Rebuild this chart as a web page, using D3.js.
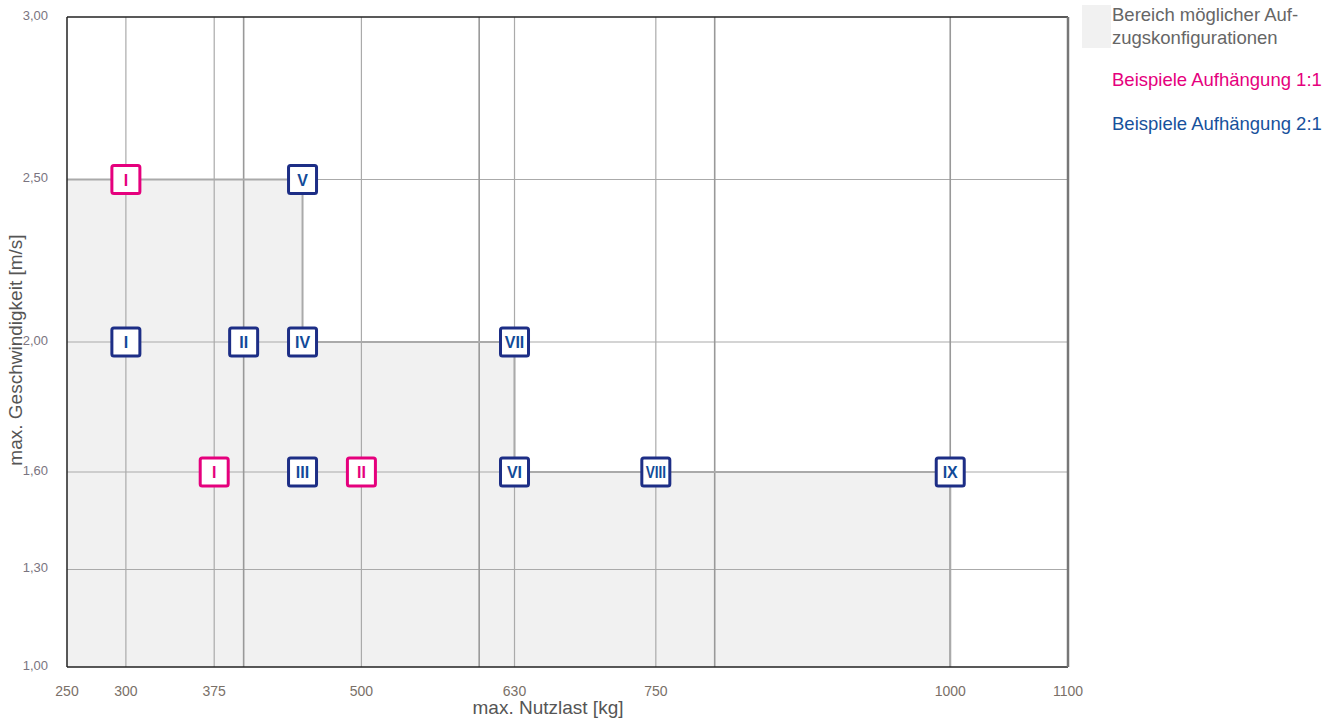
<!DOCTYPE html>
<html>
<head>
<meta charset="utf-8">
<script src="https://cdn.jsdelivr.net/npm/d3@7"></script>
<style>
  body { margin: 0; background: #fff; font-family: "Liberation Sans", Arial, sans-serif; }
</style>
</head>
<body>
<div id="chart"></div>
<script>
// data
const xTicks = [250, 300, 375, 500, 630, 750, 1000, 1100];
const xGridLight = [300, 375, 500, 630, 750];
const xGridDark = [400, 600, 800, 1000];
const yTicks = [1.0, 1.3, 1.6, 2.0, 2.5, 3.0];
const yGrid = [1.3, 1.6, 2.0, 2.5];

// area of possible configurations (step outline)
const areaLoads = [250, 450, 450, 630, 630, 1000, 1000];
const areaSpeeds = [2.5, 2.5, 2.0, 2.0, 1.6, 1.6, 1.0];

const ex11Labels = ["I", "I", "II"];
const ex11Loads = [300, 375, 500];
const ex11Speeds = [2.5, 1.6, 1.6];

const ex21Labels = ["V", "I", "II", "IV", "VII", "III", "VI", "VIII", "IX"];
const ex21Loads = [450, 300, 400, 450, 630, 450, 630, 750, 1000];
const ex21Speeds = [2.5, 2.0, 2.0, 2.0, 2.0, 1.6, 1.6, 1.6, 1.6];

const legendItems = [
  { lines: ["Bereich möglicher Auf-", "zugskonfigurationen"], color: "#666" },
  { lines: ["Beispiele Aufhängung 1:1"], color: "#e5007d" },
  { lines: ["Beispiele Aufhängung 2:1"], color: "#17519c" }
];

const W = 1339, H = 720;
const margin = { top: 17, left: 67 };
const plotW = 1001, plotH = 650;

const svg = d3.select("#chart").append("svg")
  .attr("width", W).attr("height", H);

const g = svg.append("g").attr("transform", `translate(${margin.left},${margin.top})`);

const x = d3.scaleLinear().domain([250, 1100]).range([0, plotW]);
const y = d3.scaleLinear().domain([1, 3]).range([plotH, 0]);

// shaded area
const areaPts = [[250, 1.0]].concat(areaLoads.map((l, i) => [l, areaSpeeds[i]]));
g.append("path")
  .attr("d", d3.line().x(d => x(d[0])).y(d => y(d[1]))(areaPts) + "Z")
  .attr("fill", "#f1f1f1");

// grid
g.selectAll(".hgrid").data(yGrid).enter().append("line")
  .attr("x1", 0).attr("x2", plotW)
  .attr("y1", d => y(d)).attr("y2", d => y(d))
  .attr("stroke", "#aaa").attr("stroke-width", 1.2);

g.selectAll(".vgl").data(xGridLight).enter().append("line")
  .attr("x1", d => x(d)).attr("x2", d => x(d))
  .attr("y1", 0).attr("y2", plotH)
  .attr("stroke", "#aaa").attr("stroke-width", 1.2);

g.selectAll(".vgd").data(xGridDark).enter().append("line")
  .attr("x1", d => x(d)).attr("x2", d => x(d))
  .attr("y1", 0).attr("y2", plotH)
  .attr("stroke", "#999").attr("stroke-width", 1.6);

// area outline
g.append("path")
  .attr("d", d3.line().x(d => x(d[0])).y(d => y(d[1]))(areaPts.slice(1)))
  .attr("fill", "none").attr("stroke", "#aaa").attr("stroke-width", 2);

// frame
g.append("line").attr("x1", 0).attr("x2", plotW).attr("y1", 0).attr("y2", 0)
  .attr("stroke", "#222").attr("stroke-width", 1.5);
g.append("line").attr("x1", 0).attr("x2", 0).attr("y1", 0).attr("y2", plotH)
  .attr("stroke", "#222").attr("stroke-width", 1.5);
g.append("line").attr("x1", 0).attr("x2", plotW).attr("y1", plotH).attr("y2", plotH)
  .attr("stroke", "#222").attr("stroke-width", 1.5);
g.append("line").attr("x1", plotW).attr("x2", plotW).attr("y1", 0).attr("y2", plotH)
  .attr("stroke", "#777").attr("stroke-width", 2.5);

// axes labels
const fmt = d => d3.format(".2f")(d).replace(".", ",");
g.selectAll(".ylab").data(yTicks).enter().append("text")
  .attr("x", -19).attr("y", d => y(d) + 2.5)
  .attr("text-anchor", "end")
  .attr("fill", "#7a7480").style("font-size", "13px")
  .text(fmt);

g.selectAll(".xlab").data(xTicks).enter().append("text")
  .attr("x", d => x(d)).attr("y", 696 - margin.top)
  .attr("text-anchor", "middle")
  .attr("fill", "#7a7068").style("font-size", "14px")
  .text(d => d);

svg.append("text")
  .attr("x", 548).attr("y", 714)
  .attr("text-anchor", "middle")
  .attr("fill", "#555").style("font-size", "19px")
  .text("max. Nutzlast [kg]");

svg.append("text")
  .attr("transform", "translate(22,350) rotate(-90)")
  .attr("text-anchor", "middle")
  .attr("fill", "#555").style("font-size", "19px")
  .text("max. Geschwindigkeit [m/s]");

// markers
function drawMarkers(labels, loads, speeds, stroke, textColor) {
  const m = g.selectAll(null).data(labels.map((l, i) => ({ l, x: loads[i], y: speeds[i] })))
    .enter().append("g")
    .attr("transform", d => `translate(${x(d.x)},${y(d.y)})`);
  m.append("rect")
    .attr("x", -14).attr("y", -14).attr("width", 28).attr("height", 28)
    .attr("rx", 2)
    .attr("fill", "#fff").attr("stroke", stroke).attr("stroke-width", 3);
  m.append("text")
    .attr("text-anchor", "middle").attr("y", 6)
    .attr("fill", textColor)
    .style("font-size", "16px").style("font-weight", "bold")
    .attr("transform", d => d.l.length > 3 ? "scale(0.85,1)" : null)
    .text(d => d.l);
}
drawMarkers(ex11Labels, ex11Loads, ex11Speeds, "#e5007d", "#e5007d");
drawMarkers(ex21Labels, ex21Loads, ex21Speeds, "#1d2e86", "#124a98");

// legend
svg.append("rect").attr("x", 1082).attr("y", 5).attr("width", 29).attr("height", 43)
  .attr("fill", "#f1f1f1");
let ly = 21;
legendItems.forEach(item => {
  item.lines.forEach((line, j) => {
    svg.append("text")
      .attr("x", 1112).attr("y", ly + j * 23)
      .attr("fill", item.color).style("font-size", "18.5px")
      .text(line);
  });
  ly += 65 - (item.lines.length === 1 ? 21 : 0);
});
</script>
</body>
</html>
